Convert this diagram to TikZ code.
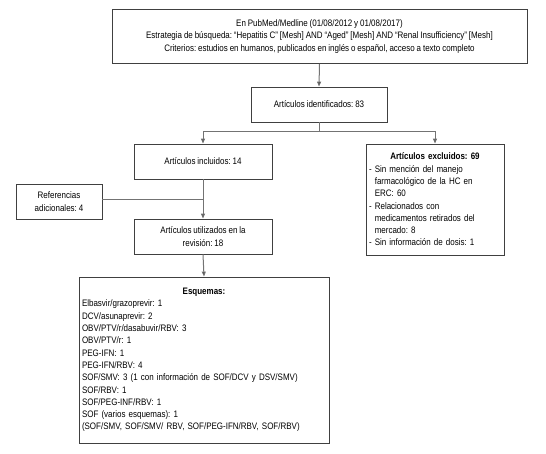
\documentclass[tikz,border=0pt]{standalone}
\usepackage{fontspec}
\setmainfont[FakeStretch=0.85,WordSpace=0.85]{Liberation Sans}
\frenchspacing
\usetikzlibrary{arrows.meta}
\tikzset{
  box/.style={draw=black!75, line width=0.8pt, fill=white, inner sep=2pt, font=\fontsize{9.4}{12.3}\selectfont\frenchspacing},
  conn/.style={draw=black!55, line width=1pt},
  arr/.style={conn, -{Triangle[length=5pt,width=4pt,fill=black]}},
}
\begin{document}
\begin{tikzpicture}[x=1pt,y=-1pt]
\useasboundingbox (0,0) rectangle (546,453);
\node[box, minimum width=415pt, minimum height=54pt, align=center] (top) at (319.5,36.5)
 {En PubMed/Medline (01/08/2012 y 01/08/2017)\\
  Estrategia de búsqueda: “Hepatitis C” [Mesh] AND “Aged” [Mesh] AND “Renal Insufficiency” [Mesh]\\
  Criterios: estudios en humanos, publicados en inglés o español, acceso a texto completo};
\node[box, minimum width=136pt, minimum height=35pt, align=center] (ident) at (319,104.5)
 {Artículos identificados: 83};
\node[box, minimum width=138pt, minimum height=35pt, align=center] (incl) at (203,161.5)
 {Artículos incluidos: 14};
\node[box, minimum width=138pt, minimum height=111pt, text width=132pt, align=left] (excl) at (435,199.5)
 {\makebox[132pt]{\textbf{Artículos excluidos: 69}}\\
  - Sin mención del manejo\\
  \hphantom{- }farmacológico de la HC en\\
  \hphantom{- }ERC: 60\\
  - Relacionados con\\
  \hphantom{- }medicamentos retirados del\\
  \hphantom{- }mercado: 8\\
  - Sin información de dosis: 1};
\node[box, minimum width=86pt, minimum height=35pt, align=center] (refs) at (59,201.5)
 {Referencias\\adicionales: 4};
\node[box, minimum width=138pt, minimum height=35pt, align=center] (util) at (203,236.5)
 {Artículos utilizados en la\\revisión: 18};
\node[box, minimum width=250pt, minimum height=166pt, text width=244pt, align=left] (esq) at (204,360)
 {\makebox[244pt]{\textbf{Esquemas:}}\\
  Elbasvir/grazoprevir: 1\\
  DCV/asunaprevir: 2\\
  OBV/PTV/r/dasabuvir/RBV: 3\\
  OBV/PTV/r: 1\\
  PEG-IFN: 1\\
  PEG-IFN/RBV: 4\\
  SOF/SMV: 3 (1 con información de SOF/DCV y DSV/SMV)\\
  SOF/RBV: 1\\
  SOF/PEG-INF/RBV: 1\\
  SOF (varios esquemas): 1\\
  (SOF/SMV, SOF/SMV/ RBV, SOF/PEG-IFN/RBV, SOF/RBV)};
\coordinate (split) at (319,131);
\coordinate (join) at (203,199);
\draw[arr] (top.south) -- (ident.north);
\draw[conn] (ident.south) -- (split);
\draw[arr] (split) -| (incl.north);
\draw[arr] (split) -| (excl.north);
\draw[arr] (incl.south) -- (util.north);
\draw[conn] (refs.east |- join) -- (join);
\draw[arr] (util.south) -- (esq.north);
\end{tikzpicture}
\end{document}
